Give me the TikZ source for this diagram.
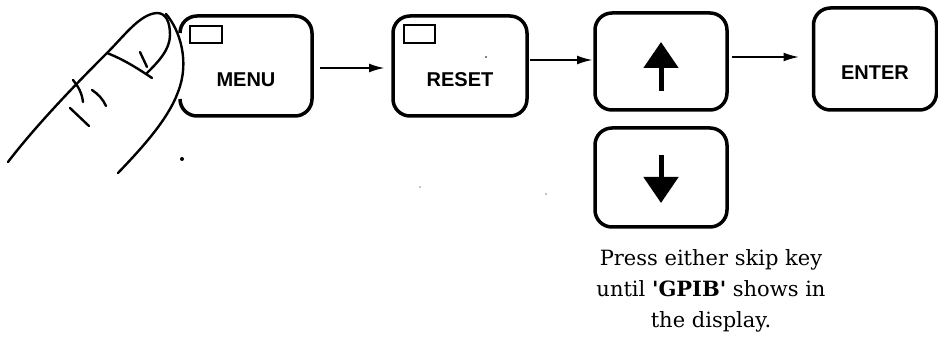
\documentclass[tikz,border=0pt]{standalone}
\usepackage{fontspec}
\newfontfamily\keyfont{Liberation Sans}
\newfontfamily\notefont{DejaVu Serif}
\usetikzlibrary{arrows.meta}

\tikzset{
  keybox/.style={draw, line width=3.5pt, rounded corners=17pt, outer sep=0pt, inner sep=0pt,
    minimum width=132pt, minimum height=100pt, text height=42pt, text depth=0pt,
    font=\keyfont\bfseries\fontsize{20}{20}\selectfont},
  ledbox/.style={draw, line width=1.8pt},
  flowarrow/.style={line width=2.4pt, -{Latex[length=16pt,width=9pt]}},
  skiparrow/.style={line width=5pt, -{Triangle[length=26pt,width=34pt]}},
  fingerline/.style={line width=2.4pt, line cap=round},
  notetext/.style={align=center, inner sep=0pt, font=\notefont\fontsize{21}{31}\selectfont},
}

\begin{document}
\begin{tikzpicture}[x=1pt,y=-1pt]
  \useasboundingbox (0,0) rectangle (938,339);

  % keys
  \node[keybox, draw=none] (menu) at (246,66) {MENU};
  \node[keybox, minimum width=134pt] (reset) at (460,66) {RESET};
  \node[keybox, minimum height=97pt] (up) at (661,61.5) {};
  \node[keybox, minimum height=99pt] (down) at (661,177.5) {};
  \node[keybox, minimum width=123pt, minimum height=102pt] (enter) at (875,59) {ENTER};

  % menu key, left side hidden by the finger
  \draw[line width=3.5pt, rounded corners=17pt] ([yshift=-17pt]menu.north west) -- (menu.north west)
    -- (menu.north east) -- (menu.south east) -- (menu.south west) -- ([yshift=17pt]menu.south west);

  % small displays
  \draw[ledbox] ([shift={(10,10)}]menu.north west) rectangle ++(32,17);
  \draw[ledbox] ([shift={(11,9)}]reset.north west) rectangle ++(31,18);

  % skip arrows
  \draw[skiparrow] ([yshift=-29.5pt]up.center) -- ([yshift=19.5pt]up.center);
  \draw[skiparrow] ([yshift=22.5pt]down.center) -- ([yshift=-25.5pt]down.center);

  % sequence
  \draw[flowarrow, shorten <=8pt, shorten >=8pt] ([yshift=-2pt]menu.east) -- ([yshift=-2pt]reset.west);
  \draw[flowarrow, shorten <=3pt, shorten >=2pt] ([yshift=6pt]reset.east) -- ([yshift=1.5pt]up.west);
  \draw[flowarrow, shorten <=5pt, shorten >=14pt] ([yshift=4.5pt]up.east) -- ([yshift=2pt]enter.west);

  \node[notetext] (note) at (711,291) {Press either skip key\\until \textbf{\textquotesingle GPIB\textquotesingle} shows in\\the display.};

  % finger
  \draw[fingerline] (8,162) .. controls (40,120) and (90,70) .. (107,53)
    .. controls (125,35) and (140,14) .. (157,13)
    .. controls (166,13) and (170,22) .. (170,35)
    .. controls (170,50) and (158,62) .. (147,73);
  \draw[fingerline] (166,14) .. controls (180,30) and (190,62) .. (178,92)
    .. controls (168,120) and (140,150) .. (118,173);
  \draw[fingerline] (107,53) .. controls (125,60) and (140,70) .. (152,78);
  \draw[fingerline] (140,52) -- (147,67);
  \draw[fingerline] (73,80) .. controls (78,86) and (82,93) .. (83,102);
  \draw[fingerline] (92,90) .. controls (98,94) and (103,99) .. (106,106);
  \draw[fingerline] (70,108) -- (89,126);

  % specks
  \fill (182,159) circle (2pt);
  \fill (486,57) circle (0.8pt);
  \fill (420,187) circle (0.7pt);
  \fill (546,194) circle (0.7pt);
\end{tikzpicture}
\end{document}
